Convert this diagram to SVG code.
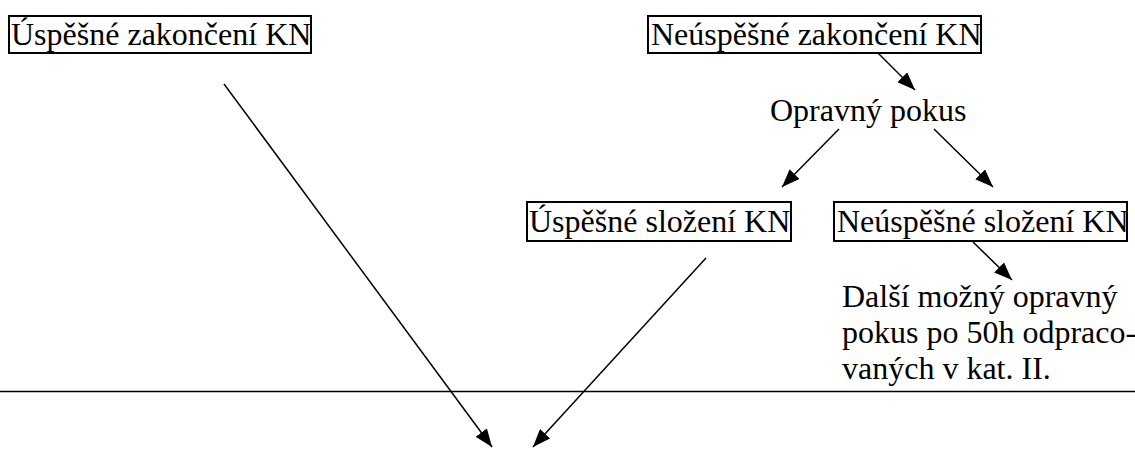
<svg xmlns="http://www.w3.org/2000/svg" width="1135" height="449" viewBox="0 0 1135 449">
<style>
  .box { fill: none; stroke: #000; stroke-width: 2; }
  .t { font-family: "Liberation Serif", "Times New Roman", "DejaVu Serif", serif; font-size: 32px; fill: #000; }
  .c { stroke: #000; stroke-width: 1.5; fill: none; }
</style>
<defs>
  <marker id="ah" viewBox="0 0 18 14" refX="18" refY="7" markerWidth="18" markerHeight="14" markerUnits="userSpaceOnUse" orient="auto">
    <path d="M0,0 L18,7 L0,14 z" fill="#000"/>
  </marker>
</defs>
<rect width="1135" height="449" fill="#fff"/>
<g id="n1">
  <rect class="box" x="9" y="16" width="302" height="37"/>
  <text class="t" x="11" y="45" font-family="Liberation Serif, serif">Úspěšné zakončení KN</text>
</g>
<g id="n2">
  <rect class="box" x="648" y="16" width="333" height="37"/>
  <text class="t" x="651" y="45" font-family="Liberation Serif, serif">Neúspěšné zakončení KN</text>
</g>
<g id="n3">
  <text class="t" x="770" y="121" font-family="Liberation Serif, serif">Opravný pokus</text>
</g>
<g id="n4">
  <rect class="box" x="527" y="202" width="264" height="39"/>
  <text class="t" x="529" y="232" font-family="Liberation Serif, serif">Úspěšné složení KN</text>
</g>
<g id="n5">
  <rect class="box" x="834" y="202" width="293" height="39"/>
  <text class="t" x="837" y="232" font-family="Liberation Serif, serif">Neúspěšné složení KN</text>
</g>
<g id="n6">
  <text class="t" x="842" y="307" font-family="Liberation Serif, serif">Další možný opravný</text>
  <text class="t" x="842" y="343" font-family="Liberation Serif, serif">pokus po 50h odpraco-</text>
  <text class="t" x="842" y="379" font-family="Liberation Serif, serif">vaných v kat. II.</text>
</g>
<g id="connectors">
  <line class="c" x1="0" y1="391.5" x2="1135" y2="391.5" stroke-width="2"/>
  <line class="c" x1="878" y1="53" x2="915" y2="90" marker-end="url(#ah)"/>
  <line class="c" x1="839" y1="129" x2="782" y2="187" marker-end="url(#ah)"/>
  <line class="c" x1="934" y1="129" x2="993" y2="187" marker-end="url(#ah)"/>
  <line class="c" x1="973" y1="242" x2="1012" y2="280" marker-end="url(#ah)"/>
  <line class="c" x1="224" y1="84" x2="492" y2="447" marker-end="url(#ah)"/>
  <line class="c" x1="706" y1="258" x2="533" y2="447" marker-end="url(#ah)"/>
</g>
</svg>
